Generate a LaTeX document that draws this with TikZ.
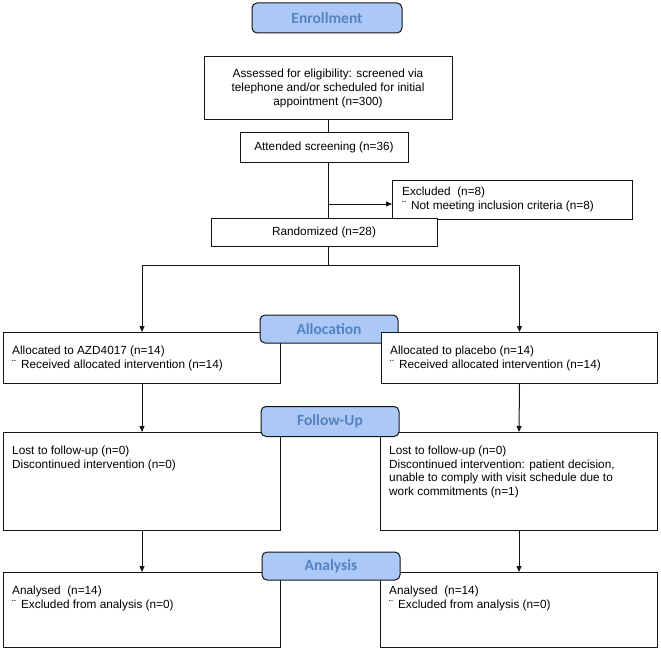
\documentclass[tikz,border=0pt]{standalone}
\usepackage{fontspec}
\setmainfont{Liberation Sans}
\newfontfamily\labfont{Carlito}
\usetikzlibrary{arrows.meta}
\definecolor{labfill}{RGB}{172,200,246}
\definecolor{labtext}{RGB}{84,131,194}
\definecolor{lineblk}{RGB}{20,20,20}
\begin{document}
\begin{tikzpicture}[x=1pt,y=-1pt,
  frame/.style={draw=lineblk, line width=1pt, fill=white, inner sep=0pt},
  stage/.style={draw=lineblk, line width=1pt, fill=labfill, rounded corners=5pt, inner sep=0pt,
    text=labtext, font=\labfont\bfseries\fontsize{15.5}{18}\selectfont},
  body/.style={inner sep=0pt, font=\fontsize{11.8}{13.6}\selectfont, text=black},
  arr/.style={draw=lineblk, line width=1pt, -{Triangle[length=6pt,width=5pt]}},
  ln/.style={draw=lineblk, line width=1pt}]
\useasboundingbox (0,0) rectangle (661,650);

% Enrollment
\node[stage, minimum width=150pt, minimum height=30pt] (enr) at (327,18) {Enrollment};
\node[frame, body, align=center, minimum width=248pt, minimum height=63pt] (assess) at (328,88.5)
  {Assessed for eligibility: screened via\\telephone and/or scheduled for initial\\appointment (n=300)};
\node[frame, body, minimum width=168pt, minimum height=29pt] (att) at (324,147.5) {Attended screening (n=36)};
\node[frame, anchor=north west, minimum width=240pt, minimum height=39pt] (excl) at (392,180) {};
\node[body, align=left, anchor=west] (excltxt) at (402,199.5)
  {Excluded\ \ (n=8)\\¨\hspace{5pt}Not meeting inclusion criteria (n=8)};
\node[frame, body, minimum width=226pt, minimum height=28pt] (rand) at (324,232) {Randomized (n=28)};

\coordinate (exb) at (328,204);
\coordinate (br) at (328,265);
\draw[ln] (assess.south) -- (assess.south |- att.north);
\draw[ln] (assess.south |- att.south) -- (assess.south |- rand.north);
\draw[arr] (exb) -- (exb -| excl.west);
\draw[ln] (assess.south |- rand.south) -- (br);

% Allocation
\node[frame, anchor=north west, minimum width=277pt, minimum height=51pt] (aL) at (3,332) {};
\node[body, align=left, anchor=north west] at ([shift={(9,13.3)}]aL.north west)
  {\rule{0pt}{9pt}Allocated to AZD4017 (n=14)\\¨\hspace{5pt}Received allocated intervention (n=14)};
\node[stage, minimum width=138pt, minimum height=28pt] (alloc) at (329,329) {Allocation};
\node[frame, anchor=north west, minimum width=276pt, minimum height=51pt] (aR) at (381,332) {};
\node[body, align=left, anchor=north west] at ([shift={(9,13.3)}]aR.north west)
  {\rule{0pt}{9pt}Allocated to placebo (n=14)\\¨\hspace{5pt}Received allocated intervention (n=14)};
\draw[arr] (br) -| (aL.north);
\draw[arr] (br) -| (aR.north);

% Follow-up
\node[frame, anchor=north west, minimum width=277pt, minimum height=98pt] (fL) at (3,432) {};
\node[body, align=left, anchor=north west] at ([shift={(9,13.3)}]fL.north west)
  {\rule{0pt}{9pt}Lost to follow-up (n=0)\\Discontinued intervention (n=0)};
\node[frame, anchor=north west, minimum width=277pt, minimum height=98pt] (fR) at (380,432) {};
\node[body, align=left, anchor=north west] at ([shift={(9,13.3)}]fR.north west)
  {\rule{0pt}{9pt}Lost to follow-up (n=0)\\Discontinued intervention: patient decision,\\unable to comply with visit schedule due to\\work commitments (n=1)};
\node[stage, minimum width=138pt, minimum height=30pt] (fup) at (330,421.5) {Follow-Up};
\draw[arr] (aL.south) -- (fL.north);
\draw[arr] (aR.south) -- (fR.north);

% Analysis
\node[frame, anchor=north west, minimum width=277pt, minimum height=75pt] (nL) at (3,572) {};
\node[body, align=left, anchor=north west] at ([shift={(9,13.3)}]nL.north west)
  {\rule{0pt}{9pt}Analysed\ \ (n=14)\\¨\hspace{5pt}Excluded from analysis (n=0)};
\node[frame, anchor=north west, minimum width=277pt, minimum height=75pt] (nR) at (380,572) {};
\node[body, align=left, anchor=north west] at ([shift={(9,13.3)}]nR.north west)
  {\rule{0pt}{9pt}Analysed\ \ (n=14)\\¨\hspace{5pt}Excluded from analysis (n=0)};
\node[stage, minimum width=138pt, minimum height=28pt] (ana) at (331,566) {Analysis};
\draw[arr] (fL.south) -- (nL.north);
\draw[arr] (fR.south) -- (nR.north);
\end{tikzpicture}
\end{document}
